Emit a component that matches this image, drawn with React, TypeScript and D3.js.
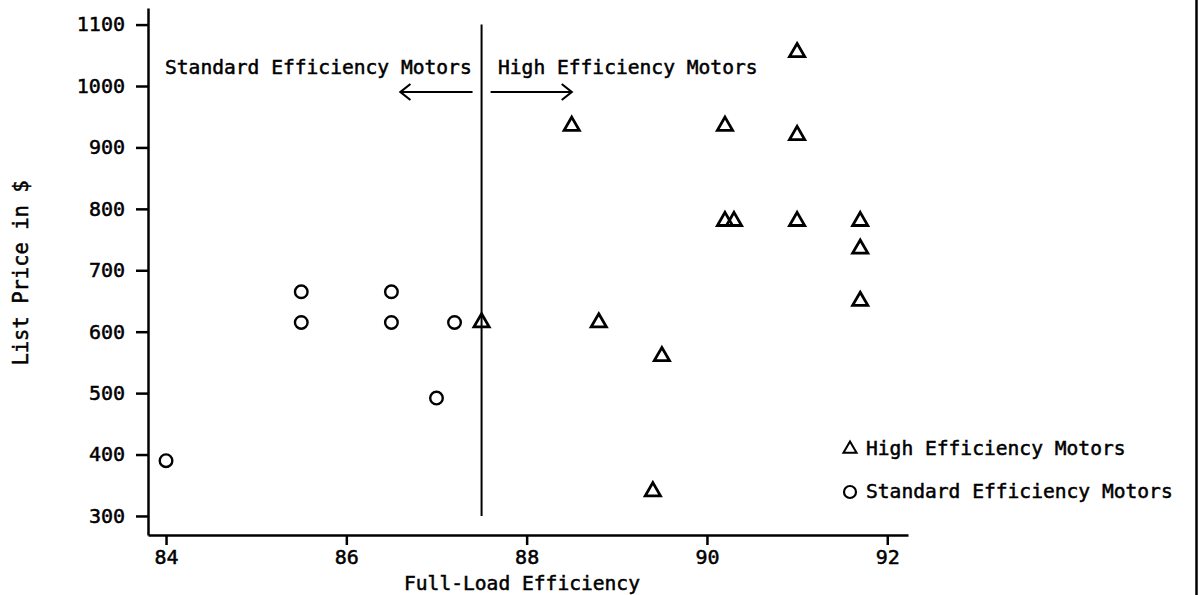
import React, { useEffect, useRef } from "react";
import * as d3 from "d3";

// Standard efficiency motors (circles)
const stdEff = [84.0, 85.5, 85.5, 86.5, 86.5, 87.2, 87.0];
const stdPrice = [390, 665, 615, 665, 615, 615, 492];

// High efficiency motors (triangles)
const highEff = [87.5, 88.5, 88.8, 89.4, 89.5, 90.2, 90.2, 90.3, 91.0, 91.0, 91.0, 91.7, 91.7, 91.7];
const highPrice = [615, 935, 615, 340, 560, 935, 780, 780, 1055, 920, 780, 780, 735, 650];

const xTicks = [84, 86, 88, 90, 92];
const yTicks = [300, 400, 500, 600, 700, 800, 900, 1000, 1100];

// divider between the two groups and arrows
const divider = 87.5;
const dividerRange = [300, 1100];
const arrowLeft = [87.4, 86.6];
const arrowRight = [87.6, 88.5];

const W = 1199;
const H = 595;
const FONT = "'DejaVu Sans Mono', monospace";

const App: React.FC = () => {
  const ref = useRef<SVGSVGElement | null>(null);

  useEffect(() => {
    if (!ref.current) return;
    const svg = d3.select(ref.current);
    svg.selectAll("*").remove();

    const x = d3.scaleLinear().domain([83.8, 92.23]).range([148, 908]);
    const y = d3.scaleLinear().domain([269, 1127]).range([535, 8]);

    const label = (sel: any, size: number) =>
      sel
        .attr("fill", "#000")
        .attr("stroke", "#000")
        .attr("stroke-width", 0.5)
        .style("font-family", FONT)
        .style("font-size", `${size}px`);

    // x axis
    const gx = svg
      .append("g")
      .attr("transform", `translate(0, ${y(269)})`)
      .call(d3.axisBottom(x).tickValues(xTicks).tickFormat(d3.format("d")).tickSize(10).tickSizeOuter(0).tickPadding(5));
    // y axis
    const gy = svg
      .append("g")
      .attr("transform", `translate(${x(83.8)}, 0)`)
      .call(d3.axisLeft(y).tickValues(yTicks).tickFormat(d3.format("d")).tickSize(12).tickSizeOuter(0).tickPadding(11));

    [gx, gy].forEach((g) => {
      g.select(".domain").attr("stroke", "#000").attr("stroke-width", 2.5);
      g.selectAll(".tick line").attr("stroke", "#000").attr("stroke-width", 2.5);
      label(g.selectAll(".tick text"), 20);
    });

    // axis titles
    label(
      svg.append("text").attr("x", 522).attr("y", 590).attr("text-anchor", "middle").text("Full-Load Efficiency"),
      19.6
    );

    label(
      svg
        .append("text")
        .attr("transform", "translate(28, 273) rotate(-90)")
        .attr("text-anchor", "middle")
        .text("List Price in $"),
      20.5
    );

    // divider
    svg
      .append("line")
      .attr("x1", x(divider))
      .attr("x2", x(divider))
      .attr("y1", y(dividerRange[1]))
      .attr("y2", y(dividerRange[0]))
      .attr("stroke", "#000")
      .attr("stroke-width", 2);

    label(svg.append("text").attr("x", 165).attr("y", 74).text("Standard Efficiency Motors"), 19.6);
    label(svg.append("text").attr("x", 498).attr("y", 74).text("High Efficiency Motors"), 19.6);

    const ay = 92;
    [arrowLeft, arrowRight].forEach(([a, b]) => {
      const x1 = x(a);
      const x2 = x(b);
      const dir = x2 > x1 ? 1 : -1;
      svg
        .append("line")
        .attr("x1", x1)
        .attr("x2", x2)
        .attr("y1", ay)
        .attr("y2", ay)
        .attr("stroke", "#000")
        .attr("stroke-width", 1.8);
      svg
        .append("path")
        .attr("d", `M${x2 - dir * 10},${ay - 8} L${x2},${ay} L${x2 - dir * 10},${ay + 8}`)
        .attr("fill", "none")
        .attr("stroke", "#000")
        .attr("stroke-width", 2.2);
    });

    const tri = d3.symbol(d3.symbolTriangle, 100);

    // high efficiency points
    svg
      .append("g")
      .selectAll("path")
      .data(highEff.map((e, i) => [e, highPrice[i]]))
      .join("path")
      .attr("transform", (d) => `translate(${x(d[0])}, ${y(d[1])})`)
      .attr("d", tri() as string)
      .attr("fill", "none")
      .attr("stroke", "#000")
      .attr("stroke-width", 2.8);

    // standard efficiency points
    svg
      .append("g")
      .selectAll("circle")
      .data(stdEff.map((e, i) => [e, stdPrice[i]]))
      .join("circle")
      .attr("cx", (d) => x(d[0]))
      .attr("cy", (d) => y(d[1]))
      .attr("r", 6.3)
      .attr("fill", "none")
      .attr("stroke", "#000")
      .attr("stroke-width", 2.4);

    // legend
    const lg = svg.append("g");
    lg.append("path")
      .attr("transform", "translate(850, 449)")
      .attr("d", d3.symbol(d3.symbolTriangle, 75)() as string)
      .attr("fill", "none")
      .attr("stroke", "#000")
      .attr("stroke-width", 2);
    label(lg.append("text").attr("x", 866).attr("y", 455).text("High Efficiency Motors"), 19.6);
    lg.append("circle")
      .attr("cx", 850)
      .attr("cy", 492)
      .attr("r", 6)
      .attr("fill", "none")
      .attr("stroke", "#000")
      .attr("stroke-width", 2.2);
    label(lg.append("text").attr("x", 866).attr("y", 498).text("Standard Efficiency Motors"), 19.6);

    // right page border
    svg
      .append("line")
      .attr("x1", 1196.5)
      .attr("x2", 1196.5)
      .attr("y1", 0)
      .attr("y2", H)
      .attr("stroke", "#000")
      .attr("stroke-width", 2.5);
  }, []);

  return (
    <svg
      ref={ref}
      width={W}
      height={H}
      style={{ position: "absolute", left: 0, top: 0, background: "#fff" }}
    />
  );
};

export default App;
